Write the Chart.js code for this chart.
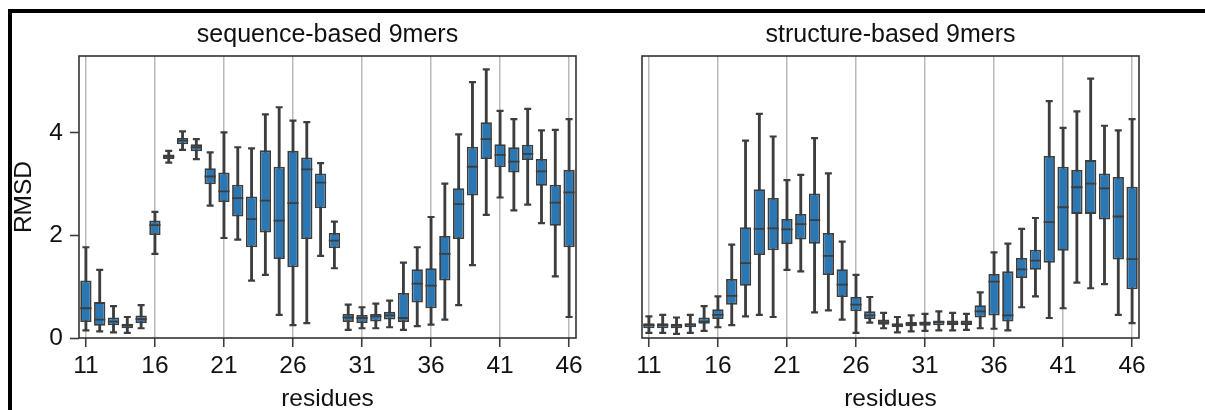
<!DOCTYPE html>
<html>
<head>
<meta charset="utf-8">
<script src="https://cdn.jsdelivr.net/npm/chart.js@4.4.1/dist/chart.umd.min.js"></script>
<style>
  html, body { margin: 0; padding: 0; background: #fff; width: 1205px; height: 410px; overflow: hidden; }
  #frame { position: absolute; left: 8px; top: 9px; width: 1300px; height: 500px;
           border-top: 4px solid #000; border-left: 4px solid #000; box-sizing: border-box; }
  canvas { position: absolute; top: 0; }
  #c1 { left: 0; }
  #c2 { left: 600px; }
</style>
</head>
<body>
<div id="frame"></div>
<canvas id="c1" width="600" height="410"></canvas>
<canvas id="c2" width="605" height="410"></canvas>
<script>
// ---------- data ----------
const residues = ['11','12','13','14','15','16','17','18','19','20','21','22','23','24','25','26','27','28',
                  '29','30','31','32','33','34','35','36','37','38','39','40','41','42','43','44','45','46'];
const xTickLabels = ['11','16','21','26','31','36','41','46'];
const yTicks = [0, 2, 4];

// sequence-based 9mers
const seqMin = [0.15,0.13,0.11,0.10,0.19,1.64,3.42,3.67,3.49,2.58,1.95,1.92,1.12,1.23,0.45,0.25,0.29,1.60,
                1.36,0.16,0.19,0.19,0.21,0.16,0.23,0.26,0.36,0.64,1.42,2.40,2.74,2.49,2.60,2.24,1.20,0.41];
const seqQ1  = [0.31,0.24,0.25,0.19,0.29,2.01,3.49,3.78,3.64,3.00,2.65,2.37,1.77,2.06,1.54,1.38,1.93,2.53,
                1.75,0.31,0.29,0.32,0.36,0.31,0.69,0.58,1.12,1.93,2.78,3.49,3.33,3.23,3.47,2.97,2.19,1.77];
const seqMed = [0.58,0.36,0.32,0.24,0.37,2.20,3.54,3.85,3.72,3.15,2.86,2.73,2.32,2.68,2.29,2.63,3.29,3.03,
                1.90,0.40,0.39,0.42,0.44,0.39,1.06,1.02,1.64,2.61,3.34,3.88,3.57,3.44,3.59,3.25,2.64,2.84];
const seqQ3  = [1.12,0.70,0.40,0.28,0.44,2.29,3.58,3.90,3.78,3.31,3.23,2.99,2.76,3.66,3.34,3.65,3.52,3.21,
                2.05,0.47,0.45,0.47,0.51,0.88,1.34,1.36,1.99,2.92,3.73,4.21,3.78,3.72,3.77,3.49,2.99,3.28];
const seqMax = [1.77,1.33,0.62,0.41,0.64,2.46,3.65,4.03,3.88,3.62,4.01,3.72,3.70,4.36,4.50,4.24,4.21,3.41,
                2.27,0.65,0.60,0.67,0.73,1.47,1.77,2.36,3.01,3.97,4.99,5.24,4.43,4.27,4.47,4.05,4.06,4.27];

// structure-based 9mers
const strMin = [0.10,0.10,0.08,0.10,0.14,0.21,0.25,0.42,0.45,0.41,1.33,1.30,0.50,0.54,0.36,0.10,0.30,0.19,
                0.11,0.13,0.14,0.15,0.15,0.16,0.19,0.18,0.15,0.60,0.81,0.39,0.58,1.08,0.97,1.05,0.45,0.29];
const strQ1  = [0.19,0.19,0.19,0.21,0.28,0.37,0.65,1.02,1.62,1.71,1.83,1.92,1.84,1.23,0.80,0.52,0.37,0.26,
                0.21,0.23,0.24,0.25,0.25,0.25,0.40,0.44,0.32,1.17,1.33,1.47,1.70,2.42,2.42,2.31,1.53,0.95];
const strMed = [0.25,0.25,0.24,0.26,0.32,0.45,0.82,1.46,2.13,2.14,2.12,2.22,2.30,1.60,1.04,0.65,0.44,0.31,
                0.25,0.27,0.29,0.31,0.29,0.29,0.52,1.10,0.44,1.34,1.51,2.26,2.55,2.94,3.01,2.92,2.37,1.54];
const strQ3  = [0.29,0.29,0.28,0.29,0.40,0.56,1.15,2.16,2.90,2.73,2.32,2.42,2.82,2.05,1.34,0.80,0.52,0.36,
                0.29,0.31,0.32,0.34,0.34,0.34,0.64,1.25,1.30,1.56,1.72,3.55,3.34,3.28,3.47,3.21,3.14,2.95];
const strMax = [0.42,0.45,0.40,0.45,0.62,0.81,1.82,3.85,4.37,3.93,3.08,3.18,3.90,3.21,1.88,1.23,0.80,0.49,
                0.41,0.44,0.47,0.52,0.49,0.47,0.89,1.67,1.84,2.13,2.34,4.62,4.10,4.42,5.06,4.14,4.05,4.27];

// ---------- styles ----------
const BLUE = '#2a77b3';
const LINE = '#3d3d3d';
const GRID = '#b9b9b9';
const TEXT = '#111111';
const FAMILY = "'Liberation Sans', Arial, Helvetica, sans-serif";
Chart.defaults.font.family = FAMILY;
Chart.defaults.color = TEXT;

const framePlugin = {
  id: 'frame',
  afterDraw(chart) {
    const a = chart.chartArea, ctx = chart.ctx;
    ctx.save();
    ctx.strokeStyle = '#333';
    ctx.lineWidth = 1.6;
    ctx.strokeRect(a.left, a.top, a.right - a.left, a.bottom - a.top);
    ctx.restore();
  }
};

function isShown(i) { return xTickLabels.includes(residues[i]); }

function makeChart(id, title, mins, q1s, meds, q3s, maxs, showY, yWidth, padRight) {
  const boxes = q1s.map((v, i) => [v, q3s[i]]);
  const whiskers = mins.map((v, i) => [v, maxs[i]]);
  return new Chart(document.getElementById(id), {
    type: 'bar',
    data: {
      labels: residues,
      datasets: [
        { type: 'bar', data: whiskers, backgroundColor: LINE, borderWidth: 0, barThickness: 2.2,
          grouped: false, order: 4 },
        { type: 'bar', data: boxes, backgroundColor: BLUE, borderColor: LINE, borderWidth: 1.8,
          borderSkipped: false, barPercentage: 0.82, categoryPercentage: 1, grouped: false, order: 3 },
        { type: 'line', data: meds, showLine: false, pointStyle: 'line', pointRadius: 5.6,
          pointBorderWidth: 1.8, pointBorderColor: LINE, borderColor: LINE, order: 2 },
        { type: 'line', data: maxs, showLine: false, pointStyle: 'line', pointRadius: 3.5,
          pointBorderWidth: 2.2, pointBorderColor: LINE, borderColor: LINE, order: 1 },
        { type: 'line', data: mins, showLine: false, pointStyle: 'line', pointRadius: 3.5,
          pointBorderWidth: 2.2, pointBorderColor: LINE, borderColor: LINE, order: 1 }
      ]
    },
    options: {
      responsive: false,
      animation: false,
      devicePixelRatio: 1,
      events: [],
      layout: { padding: { left: 0, right: padRight, top: 0, bottom: 0 } },
      plugins: {
        legend: { display: false },
        tooltip: { enabled: false },
        title: { display: true, text: title, fullSize: false, color: TEXT,
                 font: { size: 25, weight: 'normal', lineHeight: 1.2 },
                 padding: { top: 20, bottom: 6 } }
      },
      scales: {
        x: {
          type: 'category',
          offset: true,
          border: { display: false },
          grid: {
            offset: false,
            drawOnChartArea: true,
            drawTicks: true,
            tickLength: 9,
            lineWidth: 1.5,
            tickWidth: 1.6,
            color: (ctx) => isShown(ctx.index) ? GRID : 'rgba(0,0,0,0)',
            tickColor: (ctx) => isShown(ctx.index) ? LINE : 'rgba(0,0,0,0)'
          },
          ticks: {
            autoSkip: false, maxRotation: 0, minRotation: 0, padding: 5, color: TEXT,
            font: { size: 24.5 },
            callback: function (v, i) { return isShown(i) ? residues[i] : ''; }
          },
          title: { display: true, text: 'residues', color: TEXT,
                   font: { size: 24.5, lineHeight: 0.9 }, padding: 0 },
          afterFit: (s) => { s.height = 72; }
        },
        y: {
          min: 0, max: 5.5,
          border: { display: false },
          afterBuildTicks: (s) => { s.ticks = yTicks.map(v => ({ value: v })); },
          grid: { drawOnChartArea: false, drawTicks: showY, tickLength: 9, tickWidth: 1.6, tickColor: LINE },
          ticks: { display: showY, padding: 7, color: TEXT, font: { size: 24.5 } },
          title: { display: showY, text: 'RMSD', color: TEXT, font: { size: 24.5, lineHeight: 1.2 },
                   padding: { top: 9.3, bottom: 0 } },
          afterFit: (s) => { s.width = yWidth; }
        }
      }
    },
    plugins: [framePlugin]
  });
}

makeChart('c1', 'sequence-based 9mers', seqMin, seqQ1, seqMed, seqQ3, seqMax, true, 79, 24);
makeChart('c2', 'structure-based 9mers', strMin, strQ1, strMed, strQ3, strMax, false, 42, 66);
</script>
</body>
</html>
